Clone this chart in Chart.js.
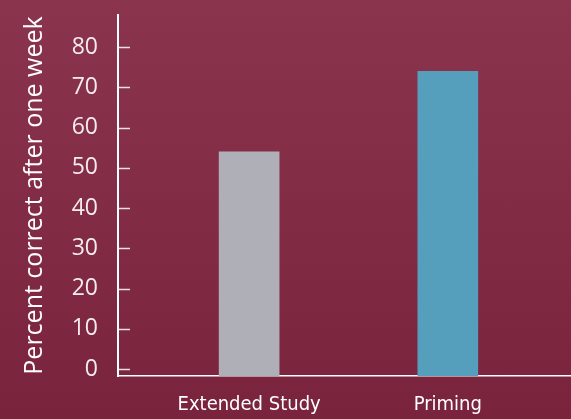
<!DOCTYPE html>
<html>
<head>
<meta charset="utf-8">
<script src="https://cdn.jsdelivr.net/npm/chart.js@4"></script>
<style>
  html, body { margin: 0; padding: 0; }
  body { width: 571px; height: 419px; background: linear-gradient(to bottom, #8b344d, #79233d); }
  #wrap { width: 571px; height: 419px; }
</style>
</head>
<body>
<div id="wrap"><canvas id="myChart"></canvas></div>
<script>
// categories and values
const categories = ['Extended Study', 'Priming']
const percentCorrect = [54, 74]
const barColors = ['#afafb7', '#559fbd']
// y ticks shown on the axis
const yTicks = [0, 10, 20, 30, 40, 50, 60, 70, 80]
// x positions of the categories (index)
const xPositions = [0, 1]

// short tick marks pointing into the plot
const innerTicks = {
    id: 'innerTicks',
    afterDraw(chart) {
        const c = chart.ctx
        const y = chart.scales.y
        const left = chart.chartArea.left
        c.save()
        c.strokeStyle = 'rgba(255,255,255,0.85)'
        c.lineWidth = 1.5
        yTicks.forEach(v => {
            const py = Math.round(y.getPixelForValue(v)) + 0.5
            c.beginPath()
            c.moveTo(left, py)
            c.lineTo(left + 12, py)
            c.stroke()
        })
        c.restore()
    }
}

const ctx = document.getElementById('myChart')
new Chart(ctx, {
    type: 'bar',
    data: {
        datasets: [{
            data: xPositions.map((x, i) => ({x: x, y: percentCorrect[i]})),
            backgroundColor: barColors,
            borderWidth: 0,
            barThickness: 60,
            base: -1.75
        }]
    },
    options: {
        responsive: true,
        maintainAspectRatio: false,
        animation: false,
        layout: { padding: { top: 15, right: 0, left: 0, bottom: 0 } },
        plugins: { legend: { display: false }, tooltip: { enabled: false } },
        scales: {
            x: {
                type: 'linear',
                offset: false,
                min: -0.66,
                max: 1.62,
                grid: { display: false, drawTicks: false, offset: false },
                border: { color: '#ffffff', width: 1.5 },
                afterBuildTicks: s => { s.ticks = xPositions.map(v => ({value: v})) },
                afterFit: s => { s.height = 43; s.paddingLeft = 0; s.paddingRight = 0 },
                ticks: {
                    color: '#ffffff',
                    padding: 17,
                    maxRotation: 0,
                    font: { family: '"Liberation Sans Narrow", "DejaVu Sans Condensed", sans-serif', size: 20 },
                    callback: v => categories[v]
                }
            },
            y: {
                min: -1.75,
                max: 88,
                grid: { display: false, drawTicks: false },
                border: { color: '#ffffff', width: 2 },
                afterBuildTicks: s => { s.ticks = yTicks.map(v => ({value: v})) },
                afterFit: s => { s.width = 118; s.paddingTop = 0; s.paddingBottom = 0 },
                ticks: {
                    color: '#f4ecee',
                    padding: 20,
                    font: { family: '"Open Sans", sans-serif', size: 23 }
                },
                title: {
                    display: true,
                    text: 'Percent correct after one week',
                    color: '#ffffff',
                    padding: { top: 20, bottom: 0 },
                    font: { family: '"Open Sans", sans-serif', size: 25 }
                }
            }
        }
    },
    plugins: [innerTicks]
})
</script>
</body>
</html>
